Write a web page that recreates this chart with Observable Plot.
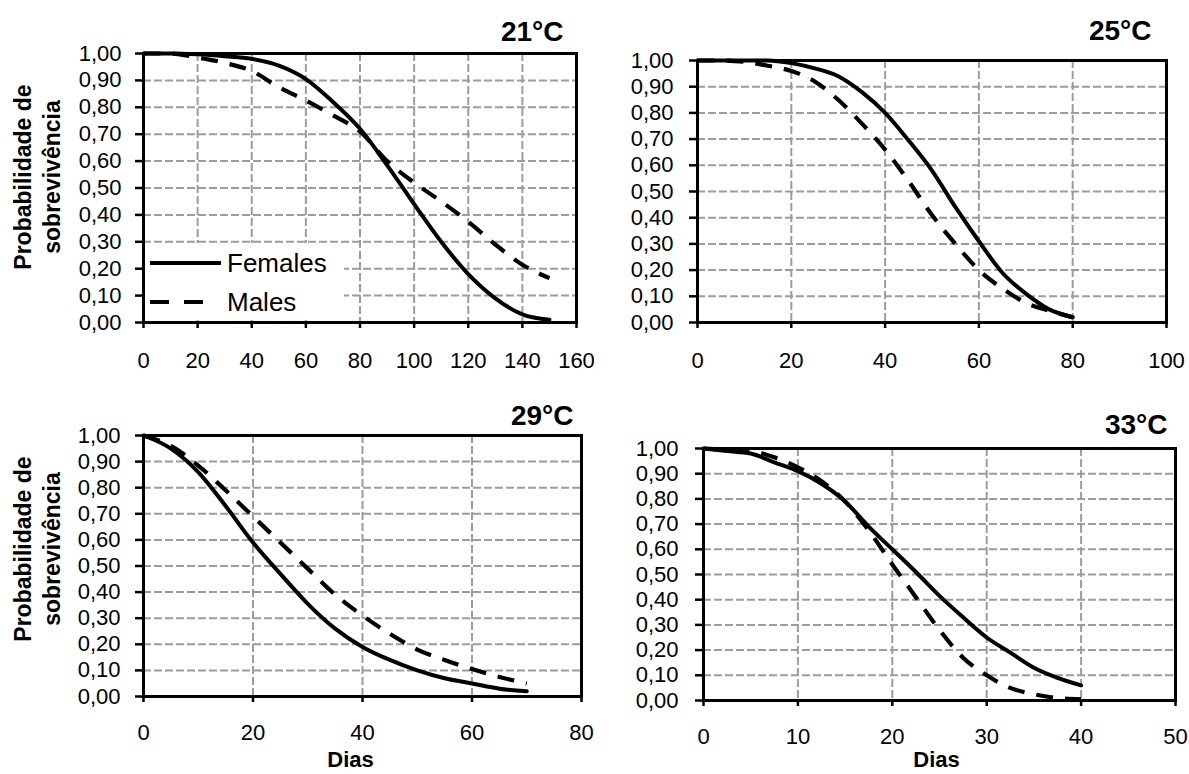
<!DOCTYPE html>
<html>
<head>
<meta charset="utf-8">
<script src="https://cdn.jsdelivr.net/npm/d3@7"></script>
<script src="https://cdn.jsdelivr.net/npm/@observablehq/plot@0.6"></script>
<style>
  html, body { margin: 0; padding: 0; background: #fff; }
  #root { position: relative; width: 1189px; height: 774px; background: #fff; overflow: hidden;
          font-family: "Liberation Sans", Arial, sans-serif; color: #000; }
  .panel { position: absolute; }
  .ytitle { position: absolute; width: 230px; height: 58px; line-height: 29px; text-align: center;
            font-weight: bold; font-size: 23px; white-space: nowrap; transform: rotate(-90deg); }
  .legend { position: absolute; background: #fff; }
</style>
</head>
<body>
<div id="root"></div>
<script>
// ---------- data ----------
const yTicks = [0, 0.1, 0.2, 0.3, 0.4, 0.5, 0.6, 0.7, 0.8, 0.9, 1.0];
const seriesNames = ["Females", "Males"];

// 21 °C
const days21 = [0, 10, 20, 30, 40, 50, 60, 70, 80, 90, 100, 110, 120, 130, 140, 150];
const females21 = [1.00, 1.00, 0.997, 0.99, 0.98, 0.955, 0.905, 0.82, 0.72, 0.585, 0.44, 0.30, 0.18, 0.09, 0.03, 0.01];
const males21 = [1.00, 1.00, 0.985, 0.965, 0.935, 0.875, 0.825, 0.77, 0.71, 0.60, 0.52, 0.45, 0.375, 0.29, 0.215, 0.165];
const xTicks21 = [0, 20, 40, 60, 80, 100, 120, 140, 160];

// 25 °C
const days25 = [0, 5, 10, 15, 20, 25, 30, 35, 40, 45, 50, 55, 60, 65, 70, 75, 80];
const females25 = [1.00, 1.00, 1.00, 1.00, 0.99, 0.97, 0.94, 0.88, 0.80, 0.695, 0.58, 0.44, 0.31, 0.19, 0.11, 0.05, 0.02];
const males25 = [1.00, 1.00, 0.995, 0.98, 0.96, 0.92, 0.85, 0.76, 0.66, 0.54, 0.41, 0.30, 0.20, 0.13, 0.075, 0.045, 0.02];
const xTicks25 = [0, 20, 40, 60, 80, 100];

// 29 °C
const days29 = [0, 5, 10, 15, 20, 25, 30, 35, 40, 45, 50, 55, 60, 65, 70];
const females29 = [1.00, 0.95, 0.86, 0.73, 0.59, 0.47, 0.355, 0.26, 0.19, 0.14, 0.10, 0.07, 0.05, 0.03, 0.02];
const males29 = [1.00, 0.96, 0.885, 0.79, 0.69, 0.59, 0.49, 0.39, 0.31, 0.24, 0.18, 0.14, 0.105, 0.075, 0.05];
const xTicks29 = [0, 20, 40, 60, 80];

// 33 °C
const days33 = [0, 2.5, 5, 7.5, 10, 12.5, 15, 17.5, 20, 22.5, 25, 27.5, 30, 32.5, 35, 37.5, 40];
const females33 = [1.00, 0.99, 0.98, 0.945, 0.91, 0.86, 0.79, 0.69, 0.60, 0.51, 0.415, 0.33, 0.25, 0.19, 0.13, 0.09, 0.06];
const males33 = [1.00, 0.995, 0.99, 0.965, 0.925, 0.87, 0.79, 0.675, 0.54, 0.41, 0.28, 0.17, 0.10, 0.05, 0.025, 0.01, 0.005];
const xTicks33 = [0, 10, 20, 30, 40, 50];

const titles = ["21°C", "25°C", "29°C", "33°C"];
const yTitle = "Probabilidade de\nsobrevivência";
const xTitle = "Dias";

// ---------- drawing ----------
const FONT = "'Liberation Sans', Arial, Helvetica, sans-serif";
const root = document.getElementById("root");
const fmt = d => d.toFixed(2).replace(".", ",");
const rows = (days, vals) => days.map((d, i) => ({day: d, p: vals[i]}));

function panel(cfg) {
  const {days, fem, male, xTicks, left, top, width, height, m, title, tdx, tdy,
         padX, padY, showX, xdx, xdy} = cfg;
  const gridStyle = {stroke: "#9c9c9c", strokeOpacity: 1, strokeWidth: 2, strokeDasharray: "8,3"};
  const marks = [
    Plot.gridX({ticks: xTicks.filter(d => d > 0), ...gridStyle}),
    Plot.gridY({ticks: yTicks.filter(d => d > 0), ...gridStyle}),
    Plot.line(rows(days, male), {x: "day", y: "p", stroke: "#000", strokeWidth: 4.2,
      strokeDasharray: "17,12", curve: "monotone-x", strokeLinecap: "butt"}),
    Plot.line(rows(days, fem), {x: "day", y: "p", stroke: "#000", strokeWidth: 4,
      curve: "monotone-x"}),
    Plot.frame({stroke: "#000", strokeWidth: 3}),
    Plot.axisX({ticks: xTicks, tickSize: 6, tickPadding: padX, fontSize: 22, strokeWidth: 2.5,
      label: null, tickFormat: d => String(d)}),
    Plot.axisY({ticks: yTicks, tickSize: 8, tickPadding: padY, fontSize: 22, strokeWidth: 2.5,
      label: null, tickFormat: fmt}),
    Plot.text([title], {frameAnchor: "top-right", textAnchor: "end", lineAnchor: "bottom",
      dx: tdx, dy: tdy, fontSize: 28, fontWeight: "bold", fill: "#000"})
  ];
  if (showX) {
    marks.push(Plot.text([xTitle], {frameAnchor: "bottom", lineAnchor: "top", dx: xdx, dy: xdy,
      fontSize: 22, fontWeight: "bold", fill: "#000"}));
  }
  const chart = Plot.plot({
    width, height,
    marginLeft: m[0], marginRight: m[1], marginTop: m[2], marginBottom: m[3],
    style: {fontFamily: FONT, fontSize: "22px", color: "#000", background: "#fff", overflow: "visible"},
    x: {domain: [xTicks[0], xTicks[xTicks.length - 1]]},
    y: {domain: [0, 1]},
    marks
  });
  const wrap = document.createElement("div");
  wrap.className = "panel";
  wrap.style.left = left + "px";
  wrap.style.top = top + "px";
  wrap.appendChild(chart);
  root.appendChild(wrap);
}

panel({days: days21, fem: females21, male: males21, xTicks: xTicks21,
  left: 0, top: 0, width: 594, height: 387, m: [143, 18, 53, 65],
  title: titles[0], tdx: -13, tdy: -13, padX: 24, padY: 14, showX: false});
panel({days: days25, fem: females25, male: males25, xTicks: xTicks25,
  left: 594, top: 0, width: 595, height: 387, m: [103, 23, 60, 65],
  title: titles[1], tdx: -15, tdy: -21, padX: 24, padY: 16, showX: false});
panel({days: days29, fem: females29, male: males29, xTicks: xTicks29,
  left: 0, top: 387, width: 594, height: 387, m: [143, 13, 48, 78],
  title: titles[2], tdx: -8, tdy: -11, padX: 22, padY: 15, showX: true, xdx: -12, xdy: 55});
panel({days: days33, fem: females33, male: males33, xTicks: xTicks33,
  left: 594, top: 387, width: 595, height: 387, m: [109, 14, 61, 74],
  title: titles[3], tdx: -8, tdy: -15, padX: 22, padY: 17, showX: true, xdx: -3, xdy: 51});

// y-axis titles (left column)
function yTitleAt(cx, cy) {
  const d = document.createElement("div");
  d.className = "ytitle";
  d.style.left = (cx - 115) + "px";
  d.style.top = (cy - 29) + "px";
  yTitle.split("\n").forEach(t => {
    const s = document.createElement("div");
    s.textContent = t;
    d.appendChild(s);
  });
  root.appendChild(d);
}
yTitleAt(37.5, 177);
yTitleAt(37.5, 549);

// legend (inside 21 °C panel)
const ns = "http://www.w3.org/2000/svg";
const lg = document.createElement("div");
lg.className = "legend";
lg.style.left = "145px"; lg.style.top = "243px";
const lsvg = document.createElementNS(ns, "svg");
lsvg.setAttribute("width", 199); lsvg.setAttribute("height", 77);
lsvg.style.display = "block";
const entries = [
  {name: seriesNames[0], y: 20, dash: null, x2: 76},
  {name: seriesNames[1], y: 59, dash: "19,15", x2: 59}
];
entries.forEach(e => {
  const ln = document.createElementNS(ns, "line");
  ln.setAttribute("x1", 5); ln.setAttribute("x2", e.x2);
  ln.setAttribute("y1", e.y); ln.setAttribute("y2", e.y);
  ln.setAttribute("stroke", "#000"); ln.setAttribute("stroke-width", 4);
  if (e.dash) ln.setAttribute("stroke-dasharray", e.dash);
  lsvg.appendChild(ln);
  const tx = document.createElementNS(ns, "text");
  tx.setAttribute("x", 82); tx.setAttribute("y", e.y);
  tx.setAttribute("dy", "0.35em");
  tx.setAttribute("font-size", 26);
  tx.setAttribute("font-family", FONT);
  tx.setAttribute("fill", "#000");
  tx.textContent = e.name;
  lsvg.appendChild(tx);
});
lg.appendChild(lsvg);
root.appendChild(lg);
</script>
</body>
</html>
